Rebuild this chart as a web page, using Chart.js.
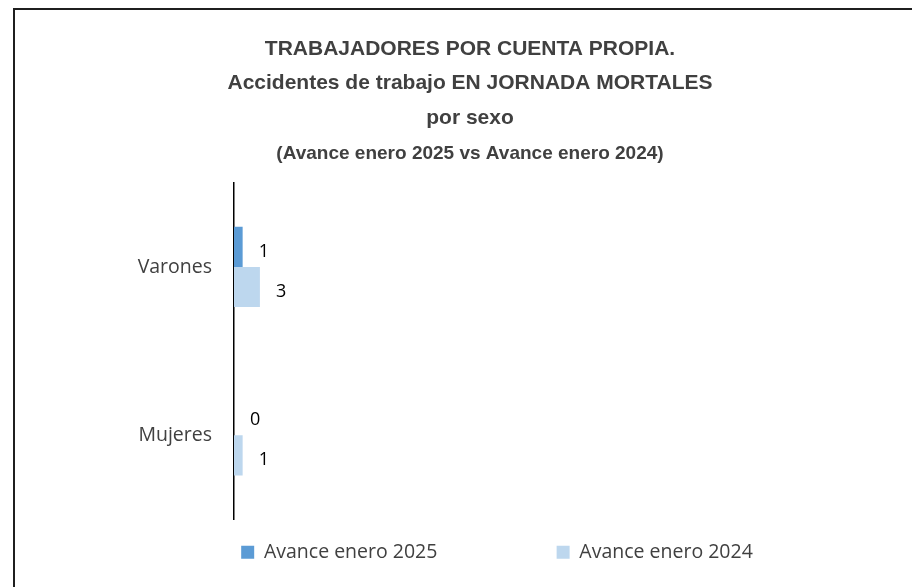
<!DOCTYPE html>
<html>
<head>
<meta charset="utf-8">
<script src="https://cdn.jsdelivr.net/npm/chart.js@4.4.1/dist/chart.umd.min.js"></script>
<style>
  body { margin: 0; overflow: hidden; background: #fff; }
  #frame {
    position: absolute; left: 13px; top: 8px;
    border-left: 2px solid #1f1f1f; border-top: 2px solid #1f1f1f;
    width: 910px; height: 590px;
  }
  #box { width: 910px; height: 562px; }
</style>
</head>
<body>
<div id="frame"><div id="box"><canvas id="chart"></canvas></div></div>
<script>
const categories = ['Varones', 'Mujeres'];
const seriesNames = ['Avance enero 2025', 'Avance enero 2024'];
const values2025 = [1, 0];
const values2024 = [3, 1];
const titleLines = ['TRABAJADORES POR CUENTA PROPIA.', 'Accidentes de trabajo EN JORNADA MORTALES', 'por sexo'];
const subtitleText = '(Avance enero 2025 vs Avance enero 2024)';

// numbers next to the bars
const valueLabels = {
    id: 'valueLabels',
    afterDatasetsDraw(chart) {
        const ctx = chart.ctx;
        ctx.save();
        ctx.font = '18px "Open Sans"';
        ctx.fillStyle = '#000';
        ctx.textBaseline = 'middle';
        chart.data.datasets.forEach((ds, i) => {
            chart.getDatasetMeta(i).data.forEach((bar, j) => {
                ctx.fillText(ds.data[j], bar.x + 16, bar.y + 5);
            });
        });
        ctx.restore();
    }
};

// legend sits a bit right of centre in the original
const legendShift = {
    id: 'legendShift',
    afterLayout(chart) {
        chart.legend.left += 27;
        chart.legend.right += 27;
    }
};

const ctx = document.getElementById('chart').getContext('2d');
new Chart(ctx, {
    type: 'bar',
    data: {
        labels: categories,
        datasets: [{
            label: seriesNames[0],
            data: values2025,
            backgroundColor: '#5B9BD5',
            borderWidth: 0
        }, {
            label: seriesNames[1],
            data: values2024,
            backgroundColor: '#BDD7EE',
            borderWidth: 0
        }]
    },
    plugins: [valueLabels, legendShift],
    options: {
        indexAxis: 'y',
        responsive: true,
        maintainAspectRatio: false,
        animation: false,
        categoryPercentage: 0.476,
        barPercentage: 1,
        layout: { padding: 0 },
        scales: {
            x: { display: false, min: 0, max: 80 },
            y: {
                afterFit: s => { s.width = 219; },
                grid: { display: false, drawTicks: false },
                border: { display: true, color: '#000', width: 1.5 },
                ticks: {
                    padding: 22,
                    color: '#404040',
                    font: { family: 'Open Sans', size: 19.5 }
                }
            }
        },
        plugins: {
            tooltip: { enabled: false },
            title: {
                display: true,
                text: titleLines,
                color: '#404040',
                font: { family: 'Liberation Sans', size: 21, weight: 'bold', lineHeight: 1.65 },
                padding: { top: 21.5, bottom: 6.5 }
            },
            subtitle: {
                display: true,
                text: subtitleText,
                color: '#404040',
                font: { family: 'Liberation Sans', size: 19, weight: 'bold', lineHeight: 1.2 },
                padding: { top: 0, bottom: 18 }
            },
            legend: {
                position: 'bottom',
                labels: {
                    boxWidth: 13,
                    boxHeight: 13,
                    padding: 23,
                    color: '#404040',
                    font: { family: 'Open Sans', size: 19.5 },
                    generateLabels(chart) {
                        const items = Chart.defaults.plugins.legend.labels.generateLabels(chart);
                        items[0].text += '\u00a0'.repeat(19);
                        return items;
                    }
                }
            }
        }
    }
});
</script>
</body>
</html>
